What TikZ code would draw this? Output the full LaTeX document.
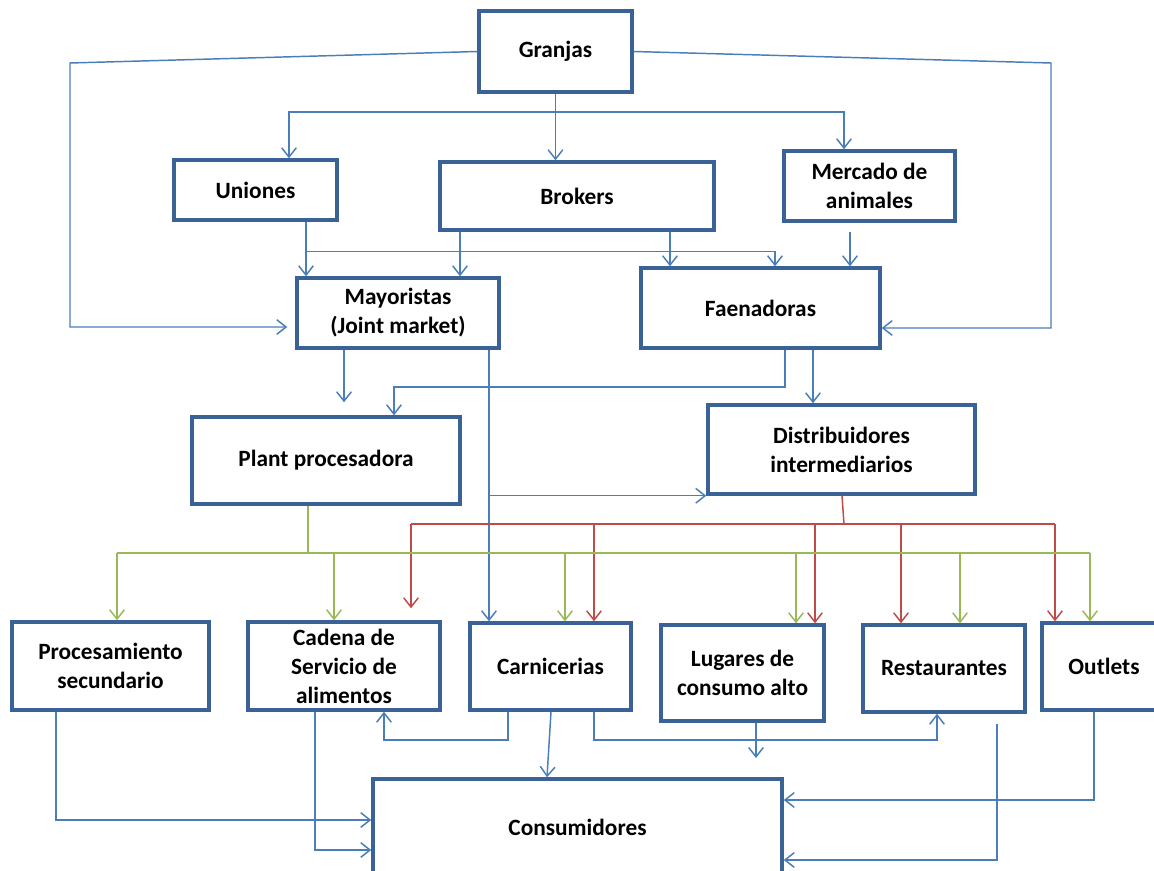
\documentclass[tikz,border=0pt]{standalone}
\usepackage{fontspec}
\setmainfont{Carlito}
\usetikzlibrary{arrows.meta}
\definecolor{boxblue}{HTML}{3B6296}
\definecolor{lineblue}{HTML}{4A7EBB}
\definecolor{linered}{HTML}{BE4B48}
\definecolor{linegreen}{HTML}{98B954}
\tikzset{
  flowbox/.style={draw=boxblue, line width=2.6pt, fill=white, align=center,
    font=\bfseries\fontsize{17.5}{21.75}\selectfont},
  tip/.style={-{Straight Barb[length=7pt,width=11pt,line width=1.1pt]}},
  bl/.style={draw=lineblue, line width=1.1pt},
  rd/.style={draw=linered, line width=1.1pt},
  gr/.style={draw=linegreen, line width=1.1pt}
}

\begin{document}
\begin{tikzpicture}[x=0.75pt, y=-0.75pt]
  \useasboundingbox (0,0) rectangle (1154,871);
  \clip (0,0) rectangle (1154,871);

  % boxes
  \node[flowbox, minimum width=114.75pt, minimum height=60.75pt] (granjas) at (555.5,51.5) {Granjas};
  \node[flowbox, minimum width=122.25pt, minimum height=45pt] (uniones) at (255.5,190) {Uniones};
  \node[flowbox, minimum width=205.5pt, minimum height=51pt] (brokers) at (577,196) {Brokers};
  \node[flowbox, minimum width=128.25pt, minimum height=52.5pt] (mercado) at (869.5,186) {Mercado de\\animales};
  \node[flowbox, minimum width=151.5pt, minimum height=52.5pt] (mayor) at (398,313) {Mayoristas\\(Joint market)};
  \node[flowbox, minimum width=179.25pt, minimum height=60pt] (faena) at (760.5,308) {Faenadoras};
  \node[flowbox, minimum width=201pt, minimum height=65.25pt] (plant) at (326,460.5) {Plant procesadora};
  \node[flowbox, minimum width=200.25pt, minimum height=66.75pt] (distri) at (841.5,449.5) {Distribuidores\\intermediarios};
  \node[flowbox, minimum width=147.75pt, minimum height=66pt] (proc) at (110.5,666) {Procesamiento\\secundario};
  \node[flowbox, minimum width=144pt, minimum height=66pt] (cadena) at (344,666) {Cadena de\\Servicio de\\alimentos};
  \node[flowbox, minimum width=120.75pt, minimum height=65.25pt] (carni) at (550.5,666.5) {Carnicerias};
  \node[flowbox, minimum width=122.25pt, minimum height=72pt] (lugares) at (742.5,673) {Lugares de\\consumo alto};
  \node[flowbox, minimum width=121.5pt, minimum height=65.25pt] (resta) at (944,668.5) {Restaurantes};
  \node[flowbox, minimum width=93pt, minimum height=65.25pt] (outlets) at (1104,666.5) {Outlets};
  \node[flowbox, minimum width=306.75pt, minimum height=72pt] (consum) at (577.5,827) {Consumidores};

  % from Granjas
  \draw[bl, tip, shorten >=6pt] (granjas.west) -- (70,63) -- (70,327) -- (mayor.west |- 0,327);
  \draw[bl, tip] (granjas.east) -- (1051,63) -- (1051,328) -- (faena.east |- 0,328);
  \draw[bl, tip] (granjas.south) -- (brokers.north -| granjas.south);
  \draw[bl, tip] (granjas.south |- 0,112) -| (uniones.north -| 289,0);
  \draw[bl, tip] (granjas.south |- 0,112) -| (mercado.north -| 844,0);

  % second level
  \draw[bl, tip] (uniones.south -| 306,0) -- (mayor.north -| 306,0);
  \draw[bl, tip] (uniones.south -| 306,0) ++(0,30) -| (faena.north -| 775,0);
  \draw[bl, tip] (brokers.south -| 460,0) -- (mayor.north -| 460,0);
  \draw[bl, tip] (brokers.south -| 670,0) -- (faena.north -| 670,0);
  \draw[bl, tip, shorten <=6.75pt] (mercado.south -| 850,0) -- (faena.north -| 850,0);

  % third level
  \draw[bl, tip, shorten >=9.75pt] (mayor.south -| 344,0) -- (plant.north -| 344,0);
  \draw[bl, tip] (faena.south -| 785,0) -- (785,387) -| (plant.north -| 394,0);
  \draw[bl, tip] (faena.south -| 813,0) -- (distri.north -| 813,0);
  \draw[bl, tip] (mayor.south -| 489,0) -- (carni.north -| 489,0);
  \draw[bl, tip] (distri.south west -| 489,0) -- (distri.south west);

  % red bus from Distribuidores
  \draw[rd] (distri.south -| 842,0) -- (844,524);
  \draw[rd] (411,524) -- (1055,524);
  \draw[rd, tip, shorten >=9pt] (411,524) -- (cadena.north -| 411,0);
  \foreach \x/\n in {594/carni, 815/lugares, 901/resta, 1055/outlets}
    \draw[rd, tip] (\x,524) -- (\n.north -| \x,0);

  % green bus from Plant procesadora
  \draw[gr] (plant.south -| 308,0) -- (308,553);
  \draw[gr] (117,553) -- (1090,553);
  \foreach \x/\n in {117/proc, 334/cadena, 565/carni, 796/lugares, 960/resta, 1090/outlets}
    \draw[gr, tip] (\x,553) -- (\n.north -| \x,0);

  % to Consumidores
  \coordinate (lugend) at (756,758);
  \draw[bl, tip] (proc.south -| 56,0) |- (consum.west |- 0,820);
  \draw[bl, tip] (cadena.south -| 315,0) |- (consum.west |- 0,850);
  \draw[bl, tip] (carni.south -| 508,0) -- (508,740) -| (cadena.south -| 384,0);
  \draw[bl, tip] (carni.south -| 551,0) -- (consum.north -| 547,0);
  \draw[bl, tip] (carni.south -| 594,0) -- (594,740) -| (resta.south -| 937,0);
  \draw[bl, tip] (lugares.south -| 756,0) -- (lugend);
  \draw[bl, tip] (outlets.south -| 1094,0) |- (consum.east |- 0,800);
  \draw[bl, tip, shorten <=7.5pt] (resta.south -| 997,0) |- (consum.east |- 0,860);
\end{tikzpicture}
\end{document}
